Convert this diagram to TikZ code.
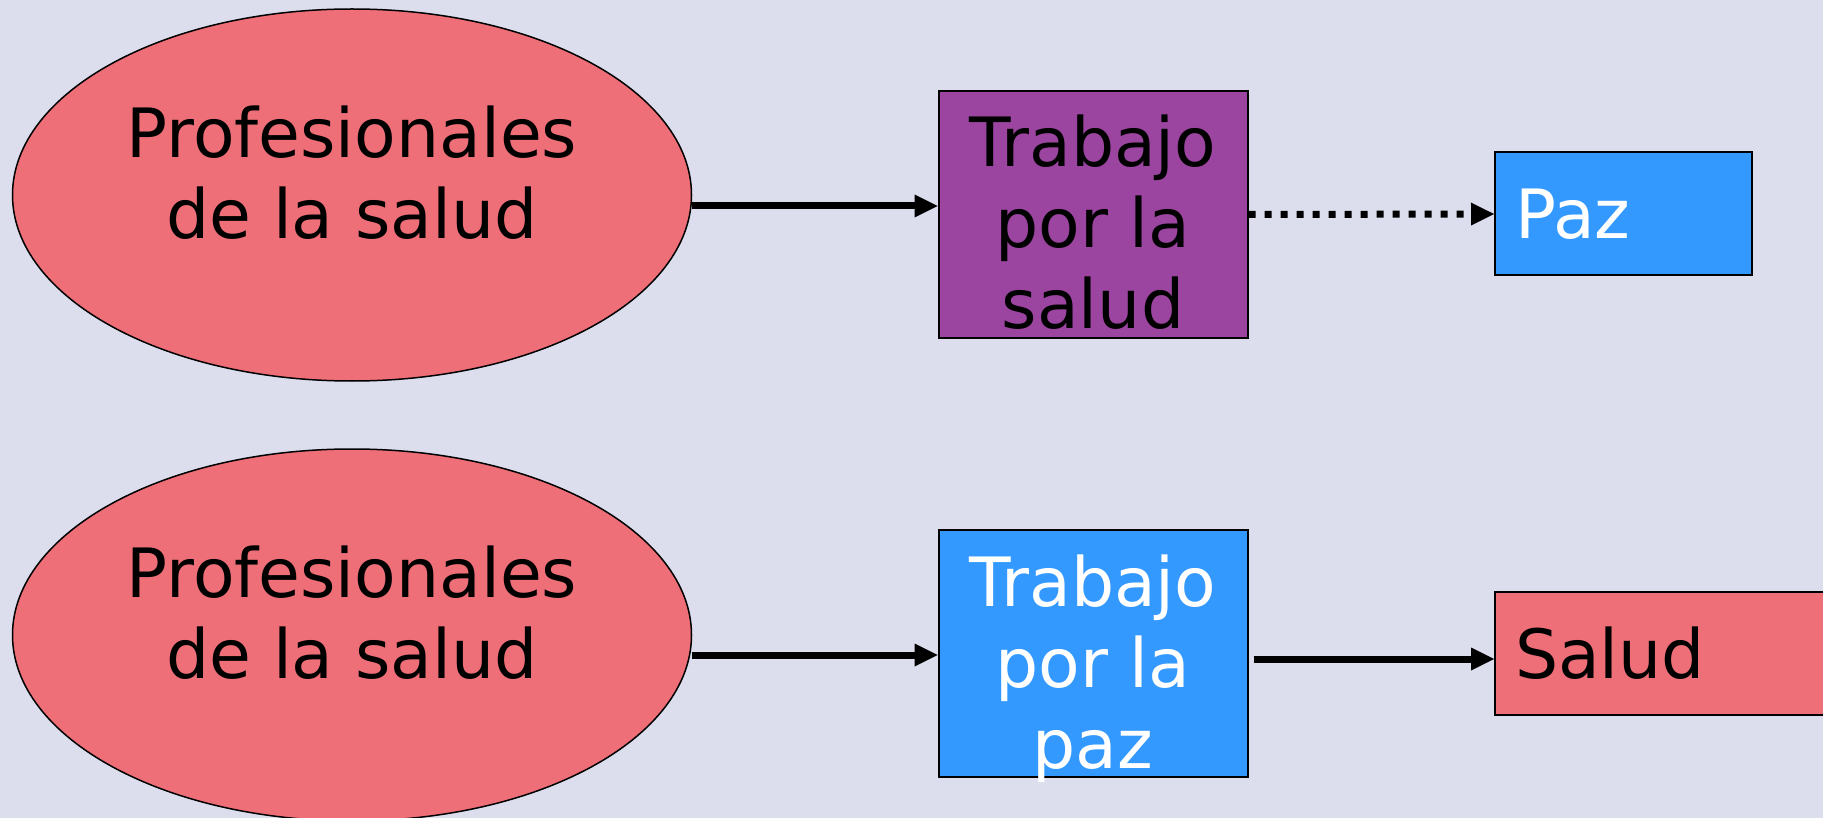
\documentclass[tikz,border=0pt]{standalone}
\usepackage{fontspec}
\setmainfont{DejaVu Sans}
\usetikzlibrary{shapes.geometric, arrows.meta}
\definecolor{fondo}{HTML}{DCDEEE}
\definecolor{rosa}{HTML}{EF6F78}
\definecolor{morado}{HTML}{9B44A0}
\definecolor{azul}{HTML}{3399FF}
\newcommand{\grande}{\fontsize{68}{81}\selectfont}
\tikzset{
  elip/.style={
    ellipse,
    minimum width=679pt,
    minimum height=372pt,
    inner sep=0pt,
    draw=black,
    line width=1.5pt,
    fill=rosa
  },
  caja/.style={
    rectangle,
    minimum width=309pt,
    minimum height=247pt,
    inner sep=0pt,
    draw=black,
    line width=2pt
  },
  texto/.style={
    inner sep=0pt,
    align=center,
    font=\grande
  },
  meta/.style={
    rectangle,
    minimum height=123pt,
    text width=217pt,
    inner xsep=20pt,
    inner ysep=0pt,
    align=left,
    anchor=west,
    draw=black,
    line width=2pt,
    font=\grande
  },
  flecha/.style={line width=7pt,-{Triangle[length=23pt,width=23pt,line width=0pt]}},
  puntos/.style={flecha, dash pattern=on 7pt off 9pt}
}

\begin{document}
\begin{tikzpicture}[x=1pt,y=-1pt]
  \useasboundingbox (0,0) rectangle (1823,818);
  \fill[fondo] (0,0) rectangle (1823,818);

  % fila de arriba
  \node[elip] (prof1) at (352,195) {};
  \node[texto] (etq1) at ([yshift=22pt]prof1.center) {Profesionales\\de la salud};
  \node[caja, fill=morado] (trab1) at (1093,214.5) {};
  \node[texto, anchor=north] (txt1) at ([yshift=-25pt]trab1.north) {Trabajo\\por la\\salud};
  \node[meta, fill=azul, text=white] (paz) at (1494,214) {Paz};

  % fila de abajo
  \node[elip] (prof2) at (352,635) {};
  \node[texto] (etq2) at ([yshift=22pt]prof2.center) {Profesionales\\de la salud};
  \node[caja, fill=azul] (trab2) at (1093,653) {};
  \node[texto, anchor=north, text=white] (txt2) at ([yshift=-26pt]trab2.north) {Trabajo\\por la\\paz};
  \node[meta, fill=rosa, text width=400pt] (salud) at (1494,653) {Salud};

  \coordinate (a1) at ([yshift=-11pt]prof1.east);
  \coordinate (a2) at ([yshift=-20pt]prof2.east);
  \coordinate (a3) at ([xshift=5pt,yshift=-6pt]trab2.east);

  \draw[flecha] (a1) -- (a1 -| trab1.west);
  \draw[puntos] (trab1.east) -- (paz.west);
  \draw[flecha] (a2) -- (a2 -| trab2.west);
  \draw[flecha] (a3) -- (a3 -| salud.west);
\end{tikzpicture}
\end{document}
